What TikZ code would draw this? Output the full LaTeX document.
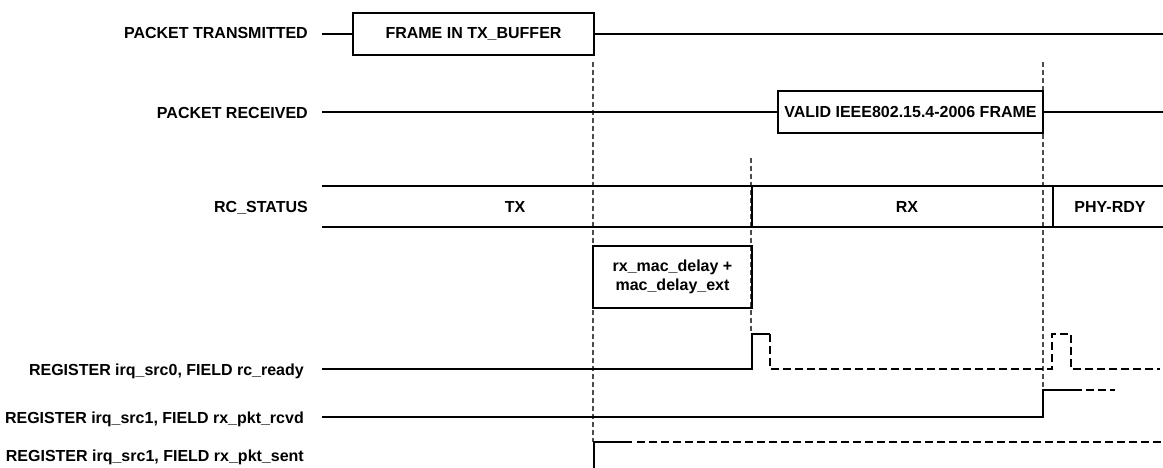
\documentclass[tikz,border=0pt]{standalone}
\usepackage{fontspec}
\setmainfont{Liberation Sans}
\usetikzlibrary{positioning,calc}

\begin{document}
\begin{tikzpicture}[x=1pt, y=-1pt, font=\fontsize{16}{19}\selectfont\bfseries,
   sig/.style={line width=2.4pt},
   sigopen/.style={line width=2pt, dash pattern=on 8pt off 4pt},
   marker/.style={line width=1.3pt, black!70, dash pattern=on 5pt off 3pt},
   lbl/.style={anchor=base east, inner sep=0pt},
   state/.style={anchor=base, inner sep=0pt},
   box/.style={draw, line width=2pt, inner sep=0pt, align=center}]
  \useasboundingbox (0,0) rectangle (1163,468);

  \node[lbl] (ptx)  at (308,39)  {PACKET TRANSMITTED};
  \node[lbl] (prx)  at (308,119) {PACKET RECEIVED};
  \node[lbl] (rcs)  at (308,213) {RC\_STATUS};
  \node[lbl] (rdy)  at (304,375) {REGISTER irq\_src0, FIELD rc\_ready};
  \node[lbl] (rcvd) at (304,423) {REGISTER irq\_src1, FIELD rx\_pkt\_rcvd};
  \node[lbl] (sent) at (304,461) {REGISTER irq\_src1, FIELD rx\_pkt\_sent};

  \coordinate (tx0)  at (593,62);
  \coordinate (tx1)  at (593,442);
  \coordinate (mac0) at (751,158);
  \coordinate (mac1) at (751,334);
  \coordinate (rx0)  at (1043,62);
  \coordinate (rx1)  at (1043,390);
  \draw[marker] (tx0) -- (tx1);
  \draw[marker] (mac0) -- (mac1);
  \draw[marker] (rx0) -- (rx1);

  \node[box, minimum width=241pt, minimum height=42pt] (txbuf) at (473.5,34)
       {FRAME IN TX\_BUFFER};
  \draw[sig] (322,34) -- (txbuf.west);
  \draw[sig] (txbuf.east) -- (1163,34);

  \node[box, minimum width=265pt, minimum height=42pt] (valid) at (910.5,112)
       {VALID IEEE802.15.4-2006 FRAME};
  \draw[sig] (322,112) -- (valid.west);
  \draw[sig] (valid.east) -- (1163,112);

  \draw[sig] (322,186) -- (1163,186);
  \draw[sig] (322,227) -- (1163,227);
  \draw[sig] (752,186) -- (752,227);
  \draw[sig] (1053,186) -- (1053,227);
  \node[state] (stx)  at (515,213)  {TX};
  \node[state] (srx)  at (907,213)  {RX};
  \node[state] (sphy) at (1110,213) {PHY-RDY};

  \node[box, minimum width=159pt, minimum height=62pt] (delay) at (672.5,277)
       {rx\_mac\_delay +\\mac\_delay\_ext};

  \draw[sig] (322,369) -- (752,369) -- (752,334) -- (770,334);
  \draw[sigopen] (770,334) -- (770,369) -- (1052,369) -- (1052,334)
                 -- (1071,334) -- (1071,369) -- (1160,369);

  \draw[sig] (322,417) -- (1043,417) -- (1043,390) -- (1082,390);
  \draw[sigopen] (1086,390) -- (1115,390);

  \draw[sig] (594,468) -- (594,442) -- (632,442);
  \draw[sigopen] (637,442) -- (1163,442);
\end{tikzpicture}
\end{document}
